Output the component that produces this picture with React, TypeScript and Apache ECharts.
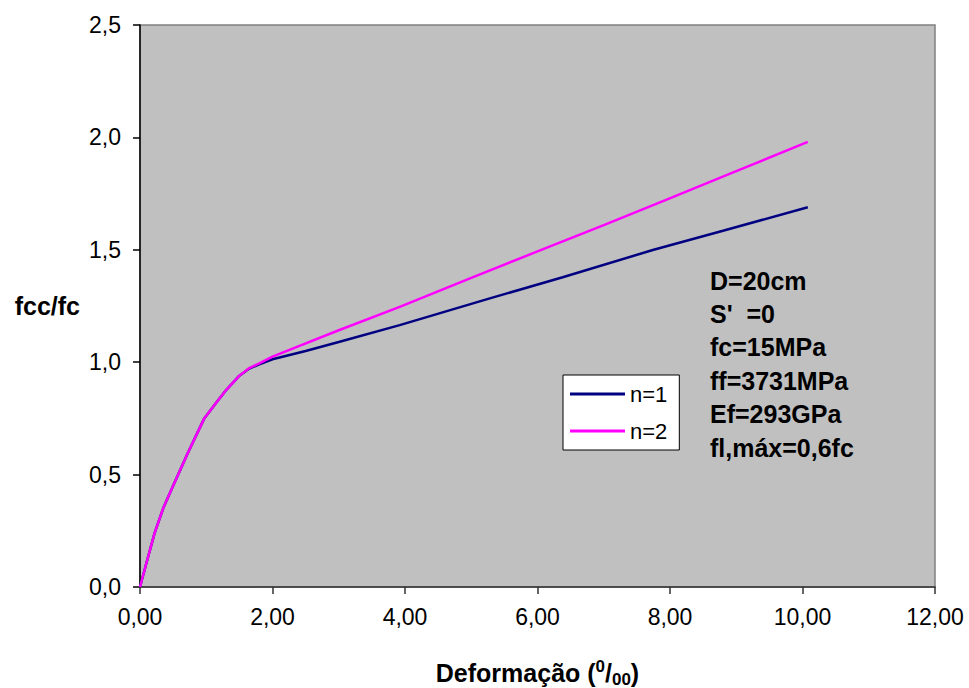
import React, { useEffect, useRef } from "react";
import * as echarts from "echarts";

const xTicks = [0, 2, 4, 6, 8, 10, 12];
const yTicks = [0, 0.5, 1.0, 1.5, 2.0, 2.5];

// n=1 (navy)
const strainN1 = [0, 0.1, 0.22, 0.35, 0.5, 0.72, 0.97, 1.15, 1.3, 1.5, 1.65, 1.8, 2.0, 2.5, 3.0, 3.92, 5.28, 6.38, 7.74, 8.8, 10.08];
const stressN1 = [0, 0.11, 0.24, 0.35, 0.45, 0.595, 0.75, 0.82, 0.876, 0.94, 0.972, 0.99, 1.013, 1.05, 1.09, 1.165, 1.284, 1.378, 1.499, 1.585, 1.689];

// n=2 (magenta)
const strainN2 = [0, 0.1, 0.22, 0.35, 0.5, 0.72, 0.97, 1.15, 1.3, 1.5, 1.65, 1.8, 2.0, 3.0, 3.92, 5.0, 6.0, 7.0, 7.94, 9.0, 10.08];
const stressN2 = [0, 0.11, 0.24, 0.35, 0.45, 0.595, 0.75, 0.82, 0.876, 0.94, 0.974, 0.995, 1.025, 1.142, 1.246, 1.375, 1.493, 1.61, 1.722, 1.85, 1.98];

const seriesNames = ["n=1", "n=2"];
const annotations = ["D=20cm", "S'  =0", "fc=15MPa", "ff=3731MPa", "Ef=293GPa", "fl,máx=0,6fc"];

const FONT = "'Liberation Sans', Arial, Helvetica, sans-serif";

export default function App() {
  const ref = useRef<HTMLDivElement>(null);
  useEffect(() => {
    if (!ref.current) return;
    const chart = echarts.init(ref.current, undefined, { renderer: "svg" });
    const d1 = strainN1.map((x, i) => [x, stressN1[i]]);
    const d2 = strainN2.map((x, i) => [x, stressN2[i]]);
    chart.setOption({
      animation: false,
      backgroundColor: "#ffffff",
      textStyle: { fontFamily: FONT },
      grid: {
        left: 140,
        top: 25,
        right: 34,
        bottom: 101,
        containLabel: false,
        outerBoundsMode: "none",
        show: true,
        backgroundColor: "#C0C0C0",
        borderColor: "#808080",
        borderWidth: 1.5,
      },
      xAxis: {
        type: "value",
        min: xTicks[0],
        max: xTicks[xTicks.length - 1],
        interval: 2,
        name: "{b|Deformação (}{sup|0}{b|/}{sub|00}{b|)}",
        nameLocation: "middle",
        nameGap: 71,
        nameTextStyle: {
          rich: {
            b: { fontSize: 25, fontWeight: "bold", color: "#000", fontFamily: FONT, lineHeight: 30, verticalAlign: "middle" },
            sup: { fontSize: 17, fontWeight: "bold", color: "#000", fontFamily: FONT, lineHeight: 30, verticalAlign: "top" },
            sub: { fontSize: 17, fontWeight: "bold", color: "#000", fontFamily: FONT, lineHeight: 30, verticalAlign: "bottom" },
          },
        },
        axisLine: { show: true, onZero: false, lineStyle: { color: "#333", width: 1.5 } },
        axisTick: { show: true, inside: false, length: 7, lineStyle: { color: "#333", width: 1.5 } },
        axisLabel: {
          margin: 18,
          fontSize: 23,
          color: "#000",
          fontFamily: FONT,
          formatter: (v: number) => v.toFixed(2).replace(".", ","),
        },
        splitLine: { show: false },
      },
      yAxis: {
        type: "value",
        min: yTicks[0],
        max: yTicks[yTicks.length - 1],
        interval: 0.5,
        name: "fcc/fc",
        nameLocation: "middle",
        nameRotate: 0,
        nameGap: 60,
        nameTextStyle: { fontSize: 25, fontWeight: "bold", color: "#000", fontFamily: FONT, align: "right", verticalAlign: "middle" },
        axisLine: { show: true, onZero: false, lineStyle: { color: "#000", width: 1.5 } },
        axisTick: { show: true, inside: false, length: 7, lineStyle: { color: "#000", width: 1.5 } },
        axisLabel: {
          margin: 19,
          fontSize: 23,
          color: "#000",
          fontFamily: FONT,
          formatter: (v: number) => v.toFixed(1).replace(".", ","),
        },
        splitLine: { show: false },
      },
      legend: {
        show: true,
        orient: "vertical",
        left: 563,
        top: 375,
        backgroundColor: "#ffffff",
        borderColor: "#000000",
        borderWidth: 1,
        borderRadius: 0,
        padding: [8, 12, 8, 7],
        itemWidth: 55,
        itemHeight: 3,
        itemGap: 15,
        icon: "rect",
        textStyle: { fontSize: 22, color: "#000", fontFamily: FONT },
        data: seriesNames,
      },
      graphic: annotations.map((t, i) => ({
        type: "text",
        left: 710,
        top: 268 + i * 33.4,
        style: { text: t, fontSize: 25, fontWeight: "bold", fill: "#000", fontFamily: FONT },
      })),
      series: [
        {
          name: seriesNames[0],
          type: "line",
          data: d1,
          showSymbol: false,
          symbol: "none",
          smooth: false,
          color: "#000080",
          lineStyle: { color: "#000080", width: 2.5 },
          z: 2,
        },
        {
          name: seriesNames[1],
          type: "line",
          data: d2,
          showSymbol: false,
          symbol: "none",
          smooth: false,
          color: "#FF00FF",
          lineStyle: { color: "#FF00FF", width: 2.5 },
          z: 3,
        },
      ],
    });
    return () => chart.dispose();
  }, []);
  return (
    <div
      ref={ref}
      style={{ position: "fixed", left: 0, top: 0, width: 969, height: 688, background: "#fff" }}
    />
  );
}
